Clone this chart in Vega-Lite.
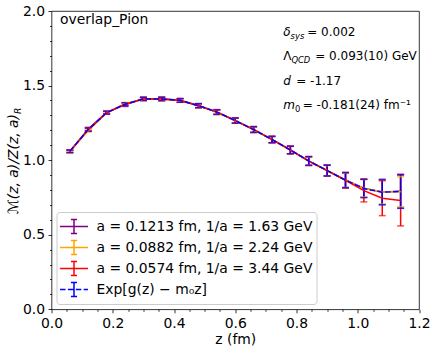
{
  "$schema": "https://vega.github.io/schema/vega-lite/v6.json",
  "width": 367.5,
  "height": 298.3,
  "autosize": {"type": "none"},
  "padding": {"left": 51.5, "top": 11, "right": 17, "bottom": 41.7},
  "background": "white",
  "config": {
    "view": {"stroke": "black", "strokeWidth": 0.8},
    "font": "DejaVu Sans",
    "axis": {"grid": false, "domain": false, "tickColor": "black", "tickWidth": 0.8, "labelFont": "DejaVu Sans", "labelFontSize": 13.9, "labelColor": "black", "titleFont": "DejaVu Sans", "titleFontSize": 13.9, "titleFontWeight": "normal", "titleColor": "black", "labelPadding": 3.5, "labelOverlap": false, "labelFlush": false, "labelBound": false},
    "legend": {"orient": "bottom-left", "offset": 5, "fillColor": "rgba(255,255,255,0.8)", "strokeColor": "#cccccc", "cornerRadius": 3, "padding": 4, "symbolSize": 361, "symbolStrokeWidth": 1.5, "symbolOpacity": 1, "symbolOffset": 3, "labelOffset": 12, "labelFontSize": 13.9, "labelFont": "DejaVu Sans", "labelColor": "black", "rowPadding": 0, "labelLimit": 400}
  },
  "datasets": {
    "series": [
      {"k": "P", "series": "a = 0.1213 fm, 1/a = 1.63 GeV"},
      {"k": "O", "series": "a = 0.0882 fm, 1/a = 2.24 GeV"},
      {"k": "R", "series": "a = 0.0574 fm, 1/a = 3.44 GeV"},
      {"k": "B", "series": "Exp[g(z) − m₀z]"}
    ],
    "notes": [
      {"z": 0.0278, "y": 1.913, "t": "overlap_Pion", "c": "t"},
      {"z": 0.7565, "y": 1.8324, "t": "δ", "c": "i"},
      {"z": 0.7807, "y": 1.8144, "t": "sys", "c": "s"},
      {"z": 0.835, "y": 1.8324, "t": "= 0.002", "c": "n"},
      {"z": 0.7565, "y": 1.6715, "t": "Λ", "c": "n"},
      {"z": 0.7833, "y": 1.6535, "t": "QCD", "c": "s"},
      {"z": 0.8611, "y": 1.6715, "t": "= 0.093(10) GeV", "c": "n"},
      {"z": 0.7565, "y": 1.5018, "t": "d", "c": "i"},
      {"z": 0.799, "y": 1.5018, "t": "= -1.17", "c": "n"},
      {"z": 0.7565, "y": 1.3409, "t": "m", "c": "i"},
      {"z": 0.7948, "y": 1.3229, "t": "0", "c": "u"},
      {"z": 0.8203, "y": 1.3409, "t": "= -0.181(24) fm⁻¹", "c": "n"},
      {"z": -0.1095, "y": 1.309, "t": "ℳ(z, a)/Z(z, a)", "c": "yt"},
      {"z": -0.0997, "y": 1.309, "t": "R", "c": "yr"}
    ],
    "pts": [
      {"k": "P", "z": 0.06, "y": 1.058, "lo": 1.048, "hi": 1.068},
      {"k": "P", "z": 0.12, "y": 1.208, "lo": 1.196, "hi": 1.220},
      {"k": "P", "z": 0.18, "y": 1.320, "lo": 1.310, "hi": 1.330},
      {"k": "P", "z": 0.24, "y": 1.372, "lo": 1.360, "hi": 1.384},
      {"k": "P", "z": 0.30, "y": 1.412, "lo": 1.400, "hi": 1.424},
      {"k": "P", "z": 0.36, "y": 1.412, "lo": 1.400, "hi": 1.424},
      {"k": "P", "z": 0.42, "y": 1.401, "lo": 1.388, "hi": 1.414},
      {"k": "P", "z": 0.48, "y": 1.366, "lo": 1.352, "hi": 1.380},
      {"k": "P", "z": 0.54, "y": 1.323, "lo": 1.307, "hi": 1.339},
      {"k": "P", "z": 0.60, "y": 1.266, "lo": 1.248, "hi": 1.284},
      {"k": "P", "z": 0.66, "y": 1.206, "lo": 1.186, "hi": 1.226},
      {"k": "P", "z": 0.72, "y": 1.139, "lo": 1.117, "hi": 1.161},
      {"k": "P", "z": 0.78, "y": 1.069, "lo": 1.043, "hi": 1.095},
      {"k": "P", "z": 0.84, "y": 0.995, "lo": 0.965, "hi": 1.025},
      {"k": "P", "z": 0.90, "y": 0.931, "lo": 0.894, "hi": 0.968},
      {"k": "P", "z": 0.96, "y": 0.867, "lo": 0.816, "hi": 0.918},
      {"k": "P", "z": 1.02, "y": 0.812, "lo": 0.750, "hi": 0.874},
      {"k": "P", "z": 1.08, "y": 0.787, "lo": 0.702, "hi": 0.872},
      {"k": "P", "z": 1.14, "y": 0.792, "lo": 0.679, "hi": 0.905},
      {"k": "O", "z": 0.06, "y": 1.056, "lo": 1.047, "hi": 1.065},
      {"k": "O", "z": 0.12, "y": 1.198, "lo": 1.188, "hi": 1.208},
      {"k": "O", "z": 0.18, "y": 1.317, "lo": 1.308, "hi": 1.326},
      {"k": "O", "z": 0.24, "y": 1.378, "lo": 1.368, "hi": 1.388},
      {"k": "O", "z": 0.30, "y": 1.409, "lo": 1.399, "hi": 1.419},
      {"k": "O", "z": 0.36, "y": 1.409, "lo": 1.398, "hi": 1.420},
      {"k": "O", "z": 0.42, "y": 1.399, "lo": 1.387, "hi": 1.411},
      {"k": "O", "z": 0.48, "y": 1.364, "lo": 1.351, "hi": 1.377},
      {"k": "O", "z": 0.54, "y": 1.321, "lo": 1.306, "hi": 1.336},
      {"k": "O", "z": 0.60, "y": 1.264, "lo": 1.247, "hi": 1.281},
      {"k": "O", "z": 0.66, "y": 1.204, "lo": 1.185, "hi": 1.223},
      {"k": "O", "z": 0.72, "y": 1.137, "lo": 1.116, "hi": 1.158},
      {"k": "O", "z": 0.78, "y": 1.067, "lo": 1.043, "hi": 1.091},
      {"k": "O", "z": 0.84, "y": 0.993, "lo": 0.965, "hi": 1.021},
      {"k": "O", "z": 0.90, "y": 0.929, "lo": 0.895, "hi": 0.963},
      {"k": "O", "z": 0.96, "y": 0.865, "lo": 0.817, "hi": 0.913},
      {"k": "O", "z": 1.02, "y": 0.812, "lo": 0.754, "hi": 0.870},
      {"k": "O", "z": 1.08, "y": 0.786, "lo": 0.706, "hi": 0.866},
      {"k": "O", "z": 1.14, "y": 0.788, "lo": 0.688, "hi": 0.888},
      {"k": "R", "z": 0.06, "y": 1.060, "lo": 1.052, "hi": 1.068},
      {"k": "R", "z": 0.12, "y": 1.205, "lo": 1.195, "hi": 1.215},
      {"k": "R", "z": 0.18, "y": 1.318, "lo": 1.309, "hi": 1.327},
      {"k": "R", "z": 0.24, "y": 1.375, "lo": 1.365, "hi": 1.385},
      {"k": "R", "z": 0.30, "y": 1.410, "lo": 1.400, "hi": 1.420},
      {"k": "R", "z": 0.36, "y": 1.410, "lo": 1.399, "hi": 1.421},
      {"k": "R", "z": 0.42, "y": 1.400, "lo": 1.388, "hi": 1.412},
      {"k": "R", "z": 0.48, "y": 1.365, "lo": 1.352, "hi": 1.378},
      {"k": "R", "z": 0.54, "y": 1.322, "lo": 1.307, "hi": 1.337},
      {"k": "R", "z": 0.60, "y": 1.265, "lo": 1.248, "hi": 1.282},
      {"k": "R", "z": 0.66, "y": 1.205, "lo": 1.186, "hi": 1.224},
      {"k": "R", "z": 0.72, "y": 1.138, "lo": 1.117, "hi": 1.159},
      {"k": "R", "z": 0.78, "y": 1.068, "lo": 1.043, "hi": 1.093},
      {"k": "R", "z": 0.84, "y": 0.994, "lo": 0.965, "hi": 1.023},
      {"k": "R", "z": 0.90, "y": 0.930, "lo": 0.894, "hi": 0.966},
      {"k": "R", "z": 0.96, "y": 0.864, "lo": 0.812, "hi": 0.916},
      {"k": "R", "z": 1.02, "y": 0.796, "lo": 0.720, "hi": 0.872},
      {"k": "R", "z": 1.08, "y": 0.745, "lo": 0.628, "hi": 0.862},
      {"k": "R", "z": 1.14, "y": 0.729, "lo": 0.559, "hi": 0.899},
      {"k": "B", "z": 0.06, "y": 1.060, "lo": 1.052, "hi": 1.068},
      {"k": "B", "z": 0.12, "y": 1.205, "lo": 1.195, "hi": 1.215},
      {"k": "B", "z": 0.18, "y": 1.318, "lo": 1.309, "hi": 1.327},
      {"k": "B", "z": 0.24, "y": 1.375, "lo": 1.365, "hi": 1.385},
      {"k": "B", "z": 0.30, "y": 1.410, "lo": 1.400, "hi": 1.420},
      {"k": "B", "z": 0.36, "y": 1.410, "lo": 1.399, "hi": 1.421},
      {"k": "B", "z": 0.42, "y": 1.400, "lo": 1.388, "hi": 1.412},
      {"k": "B", "z": 0.48, "y": 1.365, "lo": 1.352, "hi": 1.378},
      {"k": "B", "z": 0.54, "y": 1.322, "lo": 1.307, "hi": 1.337},
      {"k": "B", "z": 0.60, "y": 1.265, "lo": 1.248, "hi": 1.282},
      {"k": "B", "z": 0.66, "y": 1.205, "lo": 1.186, "hi": 1.224},
      {"k": "B", "z": 0.72, "y": 1.138, "lo": 1.117, "hi": 1.159},
      {"k": "B", "z": 0.78, "y": 1.068, "lo": 1.043, "hi": 1.093},
      {"k": "B", "z": 0.84, "y": 0.994, "lo": 0.965, "hi": 1.023},
      {"k": "B", "z": 0.90, "y": 0.930, "lo": 0.894, "hi": 0.966},
      {"k": "B", "z": 0.96, "y": 0.866, "lo": 0.816, "hi": 0.916},
      {"k": "B", "z": 1.02, "y": 0.810, "lo": 0.749, "hi": 0.871},
      {"k": "B", "z": 1.08, "y": 0.785, "lo": 0.701, "hi": 0.869},
      {"k": "B", "z": 1.14, "y": 0.790, "lo": 0.677, "hi": 0.903}
    ]
  },
  "data": {"name": "pts"},
  "transform": [
    {"lookup": "k", "from": {"data": {"name": "series"}, "key": "k", "fields": ["series"]}}
  ],
  "encoding": {
    "x": {
      "field": "z", "type": "quantitative",
      "scale": {"domain": [0, 1.2], "nice": false, "zero": false},
      "axis": {
        "title": "z (fm)", "titlePadding": 2,
        "values": [0, 0.05, 0.1, 0.15, 0.2, 0.25, 0.3, 0.35, 0.4, 0.45, 0.5, 0.55, 0.6, 0.65, 0.7, 0.75, 0.8, 0.85, 0.9, 0.95, 1.0, 1.05, 1.1, 1.15, 1.2],
        "labelExpr": "abs(datum.value*5 - round(datum.value*5)) < 0.001 ? format(datum.value, '.1f') : ''",
        "tickSize": {"condition": {"test": "abs(datum.value*5 - round(datum.value*5)) < 0.001", "value": 3.5}, "value": 2}
      }
    },
    "y": {
      "field": "y", "type": "quantitative",
      "scale": {"domain": [0, 2], "nice": false, "zero": false},
      "axis": {
        "title": null,
        "values": [0, 0.1, 0.2, 0.3, 0.4, 0.5, 0.6, 0.7, 0.8, 0.9, 1.0, 1.1, 1.2, 1.3, 1.4, 1.5, 1.6, 1.7, 1.8, 1.9, 2.0],
        "labelExpr": "abs(datum.value*2 - round(datum.value*2)) < 0.001 ? format(datum.value, '.1f') : ''",
        "tickSize": {"condition": {"test": "abs(datum.value*2 - round(datum.value*2)) < 0.001", "value": 3.5}, "value": 2}
      }
    }
  },
  "layer": [
    {
      "mark": {"type": "rule", "strokeWidth": 1.5},
      "encoding": {
        "y": {"field": "lo", "type": "quantitative",
          "axis": {"title": null, "values": [0, 0.1, 0.2, 0.3, 0.4, 0.5, 0.6, 0.7, 0.8, 0.9, 1.0, 1.1, 1.2, 1.3, 1.4, 1.5, 1.6, 1.7, 1.8, 1.9, 2.0], "labelExpr": "abs(datum.value*2 - round(datum.value*2)) < 0.001 ? format(datum.value, '.1f') : ''", "tickSize": {"condition": {"test": "abs(datum.value*2 - round(datum.value*2)) < 0.001", "value": 3.5}, "value": 2}}},
        "y2": {"field": "hi"},
        "color": {"field": "series", "type": "nominal", "title": null, "scale": {"domain": ["a = 0.1213 fm, 1/a = 1.63 GeV", "a = 0.0882 fm, 1/a = 2.24 GeV", "a = 0.0574 fm, 1/a = 3.44 GeV", "Exp[g(z) − m₀z]"], "range": ["#800080", "#ffa500", "#ff0000", "#0000ff"]}}
      }
    },
    {
      "mark": {"type": "tick", "orient": "horizontal", "size": 7, "thickness": 1.5},
      "encoding": {
        "y": {"field": "lo", "type": "quantitative",
          "axis": {"title": null, "values": [0, 0.1, 0.2, 0.3, 0.4, 0.5, 0.6, 0.7, 0.8, 0.9, 1.0, 1.1, 1.2, 1.3, 1.4, 1.5, 1.6, 1.7, 1.8, 1.9, 2.0], "labelExpr": "abs(datum.value*2 - round(datum.value*2)) < 0.001 ? format(datum.value, '.1f') : ''", "tickSize": {"condition": {"test": "abs(datum.value*2 - round(datum.value*2)) < 0.001", "value": 3.5}, "value": 2}}},
        "color": {"field": "series", "type": "nominal", "title": null}
      }
    },
    {
      "mark": {"type": "tick", "orient": "horizontal", "size": 7, "thickness": 1.5},
      "encoding": {
        "y": {"field": "hi", "type": "quantitative",
          "axis": {"title": null, "values": [0, 0.1, 0.2, 0.3, 0.4, 0.5, 0.6, 0.7, 0.8, 0.9, 1.0, 1.1, 1.2, 1.3, 1.4, 1.5, 1.6, 1.7, 1.8, 1.9, 2.0], "labelExpr": "abs(datum.value*2 - round(datum.value*2)) < 0.001 ? format(datum.value, '.1f') : ''", "tickSize": {"condition": {"test": "abs(datum.value*2 - round(datum.value*2)) < 0.001", "value": 3.5}, "value": 2}}},
        "color": {"field": "series", "type": "nominal", "title": null}
      }
    },
    {
      "transform": [{"filter": "datum.k != 'B'"}],
      "mark": {"type": "line", "strokeWidth": 1.5},
      "encoding": {
        "color": {"field": "series", "type": "nominal", "title": null}
      }
    },
    {
      "transform": [{"filter": "datum.k == 'B'"}],
      "mark": {"type": "line", "strokeWidth": 1.5, "strokeDash": [5.5, 2.4]},
      "encoding": {
        "color": {"field": "series", "type": "nominal", "title": null}
      }
    },
    {
      "mark": {"type": "point", "filled": false, "size": 0, "strokeWidth": 1.5},
      "encoding": {
        "color": {"field": "series", "type": "nominal", "title": null},
        "shape": {"field": "series", "type": "nominal", "title": null,
          "scale": {"domain": ["a = 0.1213 fm, 1/a = 1.63 GeV", "a = 0.0882 fm, 1/a = 2.24 GeV", "a = 0.0574 fm, 1/a = 3.44 GeV", "Exp[g(z) − m₀z]"],
            "range": ["M-1.47,0H1.47M0,-0.74V0.74M-0.32,-0.74H0.32M-0.32,0.74H0.32", "M-1.47,0H1.47M0,-0.74V0.74M-0.32,-0.74H0.32M-0.32,0.74H0.32", "M-1.47,0H1.47M0,-0.74V0.74M-0.32,-0.74H0.32M-0.32,0.74H0.32", "M-1.47,0H-0.89M-0.64,0H-0.06M0.19,0H0.77M1.02,0H1.47M0,-0.74V0.74M-0.32,-0.74H0.32M-0.32,0.74H0.32"]}}
      }
    },
    {
      "data": {"name": "notes"},
      "transform": [{"filter": "datum.c == 't'"}],
      "mark": {"type": "text", "align": "left", "baseline": "alphabetic", "fontSize": 13.9, "font": "DejaVu Sans", "color": "black"},
      "encoding": {"text": {"field": "t"}}
    },
    {
      "data": {"name": "notes"},
      "transform": [{"filter": "datum.c == 'n'"}],
      "mark": {"type": "text", "align": "left", "baseline": "alphabetic", "fontSize": 12, "font": "DejaVu Sans", "color": "black"},
      "encoding": {"text": {"field": "t"}}
    },
    {
      "data": {"name": "notes"},
      "transform": [{"filter": "datum.c == 'i'"}],
      "mark": {"type": "text", "align": "left", "baseline": "alphabetic", "fontSize": 12, "fontStyle": "italic", "font": "DejaVu Sans", "color": "black"},
      "encoding": {"text": {"field": "t"}}
    },
    {
      "data": {"name": "notes"},
      "transform": [{"filter": "datum.c == 's'"}],
      "mark": {"type": "text", "align": "left", "baseline": "alphabetic", "fontSize": 8.4, "fontStyle": "italic", "font": "DejaVu Sans", "color": "black"},
      "encoding": {"text": {"field": "t"}}
    },
    {
      "data": {"name": "notes"},
      "transform": [{"filter": "datum.c == 'u'"}],
      "mark": {"type": "text", "align": "left", "baseline": "alphabetic", "fontSize": 8.4, "font": "DejaVu Sans", "color": "black"},
      "encoding": {"text": {"field": "t"}}
    },
    {
      "data": {"name": "notes"},
      "transform": [{"filter": "datum.c == 'yt'"}],
      "mark": {"type": "text", "align": "right", "baseline": "alphabetic", "angle": 270, "fontSize": 13.9, "fontStyle": "italic", "font": "DejaVu Sans", "color": "black"},
      "encoding": {"text": {"field": "t"}}
    },
    {
      "data": {"name": "notes"},
      "transform": [{"filter": "datum.c == 'yr'"}],
      "mark": {"type": "text", "align": "left", "baseline": "alphabetic", "angle": 270, "fontSize": 9.2, "fontStyle": "italic", "font": "DejaVu Sans", "color": "black"},
      "encoding": {"text": {"field": "t"}}
    }
  ]
}
